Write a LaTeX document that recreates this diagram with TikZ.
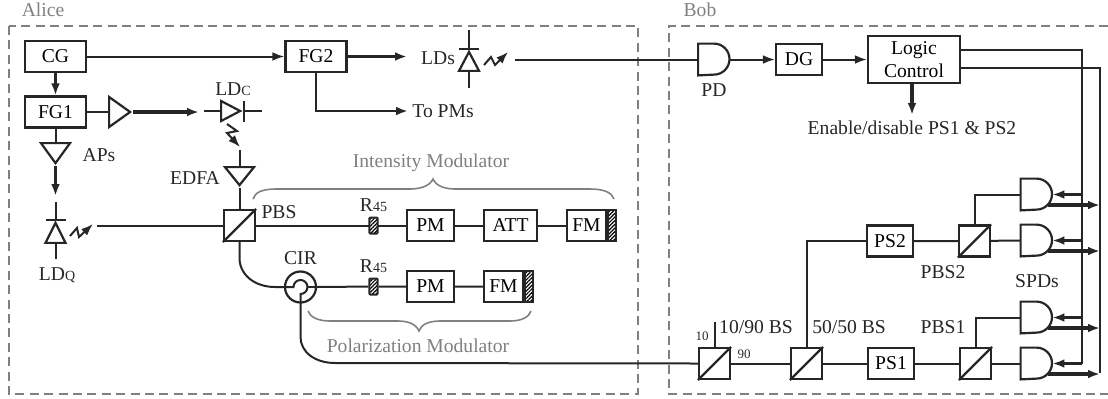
\documentclass[tikz,border=0pt]{standalone}
\usepackage{fontspec}
\setmainfont{Liberation Serif}
\usetikzlibrary{arrows.meta,patterns.meta,shapes.geometric}
\newcommand{\subtext}[1]{{\fontsize{7}{8}\selectfont #1}}

\begin{document}
\begin{tikzpicture}[x=0.5pt,y=-0.5pt,
	font=\fontsize{9.8}{11.5}\selectfont,
	>={Latex[length=6pt,width=4.4pt]},
	line_conn/.style={line width=1pt,draw=black!85},
	thin_arrow/.style={line_conn,->},
	thick_arrow/.style={line width=1.6pt,draw=black!85,->},
	box_node/.style={draw=black!85,rectangle,line width=1.1pt,inner sep=0pt,minimum height=15.5pt,align=center},
	split_node/.style={box_node,minimum width=15.5pt},
	hatch_node/.style={draw=black!85,line width=1pt,inner sep=0pt,minimum width=4pt,minimum height=15.5pt,pattern={Lines[angle=45,distance=1.3pt,line width=.6pt]}},
	rot_node/.style={hatch_node,rounded corners=.5pt,minimum width=4.2pt,minimum height=8pt},
	amp_node/.style={draw=black!85,isosceles triangle,isosceles triangle stretches,line width=1.1pt,inner sep=0pt,anchor=apex},
	gate_node/.style={rectangle,inner sep=0pt,minimum size=15.5pt,append after command={\pgfextra{\let\gatenode=\tikzlastnode
		\draw[line width=1.1pt,draw=black!85] (\gatenode.north west) -- (\gatenode.north) arc (90:-90:7.75pt) -- (\gatenode.south west) -- cycle;}}},
	gray_label/.style={text=black!50,inner sep=0pt},
	label_node/.style={text=black!85,inner sep=0pt},
	tiny_label/.style={label_node,font=\fontsize{6.5}{7}\selectfont},
	frame_line/.style={draw=black!50,line width=.8pt,dash pattern=on 4.5pt off 2.7pt},
	brace_line/.style={draw=black!50,line width=.8pt}]
	\useasboundingbox (0,0) rectangle (1108,398);

	% frames
	\draw[frame_line] (9,26) rectangle (638,394);
	\draw[frame_line] (1108,26) -- (669,26) -- (669,394) -- (1108,394);
	\node[gray_label] (alice) at (43,10) {Alice};
	\node[gray_label] (bob) at (700,10) {Bob};

	% Alice
	\node[box_node,minimum width=30.5pt] (cg) at (55.5,56.5) {CG};
	\node[box_node,minimum width=30.5pt] (fg1) at (55.5,112) {FG1};
	\node[box_node,minimum width=30.5pt] (fg2) at (316,56.5) {FG2};
	\node[amp_node,minimum width=15pt,minimum height=10.5pt] (amp1) at (133,112) {};
	\node[amp_node,shape border rotate=-90,minimum width=14.5pt,minimum height=10pt] (amp2) at (55.5,166) {};
	\node[amp_node,shape border rotate=-90,minimum width=14.5pt,minimum height=9pt] (edfa) at (239.5,188) {};
	\node[amp_node,minimum width=10pt,minimum height=9.5pt] (ldc) at (243,111) {};
	\node[amp_node,shape border rotate=90,minimum width=10pt,minimum height=10pt] (ldq) at (55.5,220) {};
	\node[amp_node,shape border rotate=90,minimum width=10pt,minimum height=9.5pt] (lds) at (469,49) {};
	\node[split_node] (pbs) at (239.5,225.5) {};
	\node[rot_node] (rot1) at (373.5,225.5) {};
	\node[box_node,minimum width=23.5pt] (pm1) at (430.5,225.5) {PM};
	\node[box_node,minimum width=26.5pt] (att) at (510.5,225.5) {ATT};
	\node[box_node,minimum width=19.5pt] (fm1) at (586.5,225.5) {FM};
	\node[hatch_node,anchor=west] (mirror1) at (fm1.east) {};
	\node[draw=black!85,circle,line width=1.1pt,inner sep=0pt,minimum size=15.5pt] (cir) at (300.5,287) {};
	\node[rot_node] (rot2) at (373.5,286.5) {};
	\node[box_node,minimum width=23.5pt] (pm2) at (430.5,286.5) {PM};
	\node[box_node,minimum width=19.5pt] (fm2) at (503.5,286.5) {FM};
	\node[hatch_node,anchor=west] (mirror2) at (fm2.east) {};

	\node[label_node] (ldc_text) at (233,89) {LD\subtext{C}};
	\node[label_node] (aps_text) at (99,155) {APs};
	\node[label_node] (edfa_text) at (195,178) {EDFA};
	\node[label_node] (ldq_text) at (57,275) {LD\subtext{Q}};
	\node[label_node] (pbs_text) at (279,212) {PBS};
	\node[label_node] (cir_text) at (300.5,258) {CIR};
	\node[label_node] (r1_text) at (373.5,205) {R\subtext{45}};
	\node[label_node] (r2_text) at (373.5,266) {R\subtext{45}};
	\node[label_node] (lds_text) at (438,58) {LDs};
	\node[label_node,anchor=west] (topm_text) at (412,111) {To PMs};
	\node[gray_label] (im_text) at (431,163) {Intensity Modulator};
	\node[gray_label] (pm_text) at (418,346) {Polarization Modulator};

	\coordinate (ldc_in) at (204,111);
	\coordinate (ldc_out) at (262,111);
	\coordinate (ldc_arrow) at (199,112);
	\coordinate (ldq_top) at (55.5,202);
	\coordinate (ldq_bot) at (55.5,259);
	\coordinate (ldq_arrow) at (55.5,196);
	\coordinate (ldq_fibre) at (97,225.5);
	\coordinate (edfa_in) at (239.5,150);
	\coordinate (lds_top) at (469,30);
	\coordinate (lds_bot) at (469,88);
	\coordinate (lds_arrow) at (407,56.5);
	\coordinate (lds_fibre) at (515,59.5);
	\coordinate (topm) at (408,111);

	\draw[thin_arrow] (cg) -- (fg2);
	\draw[thick_arrow] (cg) -- (fg1);
	\draw[line_conn] (fg1) -- (amp1.lower side);
	\draw[thick_arrow] (amp1.apex) -- (ldc_arrow);
	\draw[line_conn] (fg1) -- (amp2.lower side);
	\draw[thick_arrow] (amp2.apex) -- (ldq_arrow);
	\draw[thick_arrow] (fg2) -- (lds_arrow);
	\draw[thick_arrow,line width=1.2pt] (fg2.south) |- (topm);
	\draw[line_conn] (ldc_in) -- (ldc.lower side);
	\draw[line_conn] (ldc.apex) -- (ldc_out);
	\draw[line_conn] (243.5,101) -- (243.5,122);
	\draw[line_conn] (ldq_top) -- (ldq.apex);
	\draw[line_conn] (ldq.lower side) -- (ldq_bot);
	\draw[line_conn] (45.5,220) -- (65.5,220);
	\draw[line_conn] (lds_top) -- (lds.apex);
	\draw[line_conn] (lds.lower side) -- (lds_bot);
	\draw[line_conn] (459,49) -- (479,49);
	\draw[line_conn] (edfa_in) -- (edfa.lower side);
	\draw[line_conn] (edfa.apex) -- (pbs.north);
	\draw[line_conn] (ldq_fibre) -- (pbs.west);
	\draw[line_conn] (pbs.east) -- (rot1) -- (pm1) -- (att) -- (fm1);
	\draw[line_conn] (cir.east) -- (rot2) -- (pm2) -- (fm2);
	\draw[line_conn] (pbs.south) -- (239.5,258) .. controls (239.5,275) and (255,287) .. (275,287) -- (293.5,287) arc (180:0:3.5pt);
	\draw[line_conn] (307.5,287) -- (cir.east);

	% laser beams
	\draw[thin_arrow] (227,124) -- (237,131) -- (227,133) -- (240,147);
	\draw[thin_arrow] (70,236) -- (77,228) -- (79,237) -- (93,224);
	\draw[thin_arrow] (484,65) -- (491,57) -- (495,65) -- (508,52);

	% braces
	\draw[brace_line] (253,199) .. controls (255,192) and (263,189) .. (276,189) -- (410,189) .. controls (420,189) and (430,186) .. (433,179) .. controls (436,186) and (445,189) .. (455,189) -- (590,189) .. controls (605,189) and (612,193) .. (614,199);
	\draw[brace_line] (308,311) .. controls (310,317) and (318,321) .. (330,321) -- (398,321) .. controls (408,321) and (416,324) .. (419,331) .. controls (421,324) and (430,321) .. (440,321) -- (510,321) .. controls (522,321) and (529,317) .. (531,311);

	% Bob
	\node[gate_node] (pd) at (714,59.5) {};
	\node[box_node,minimum width=23pt] (dg) at (799,59.5) {DG};
	\node[box_node,minimum width=46pt,minimum height=23.5pt] (logic) at (914,59.5) {Logic\\Control};
	\node[split_node] (bs10) at (714.5,363.5) {};
	\node[split_node] (bs50) at (806.5,363.5) {};
	\node[box_node,minimum width=23pt] (ps1) at (891,363.5) {PS1};
	\node[split_node] (pbs1) at (975.5,363.5) {};
	\node[box_node,minimum width=23pt] (ps2) at (890,241) {PS2};
	\node[split_node] (pbs2) at (974.5,241) {};
	\node[gate_node] (spd1) at (1036.5,194.5) {};
	\node[gate_node] (spd2) at (1036.5,240.5) {};
	\node[gate_node] (spd3) at (1036.5,317.5) {};
	\node[gate_node] (spd4) at (1036.5,363.5) {};

	\node[label_node] (pd_text) at (714,90) {PD};
	\node[label_node] (enable_text) at (912,128) {Enable/disable PS1 \& PS2};
	\node[tiny_label] (ten_text) at (702,336) {10};
	\node[tiny_label] (ninety_text) at (744,354) {90};
	\node[label_node] (bs10_text) at (756,327) {10/90 BS};
	\node[label_node] (bs50_text) at (849,327) {50/50 BS};
	\node[label_node] (pbs1_text) at (943,327) {PBS1};
	\node[label_node] (pbs2_text) at (943,272) {PBS2};
	\node[label_node] (spds_text) at (1037,281) {SPDs};

	\coordinate (enable) at (912,115);
	\coordinate (bs10_free) at (714.5,322);
	\coordinate (bus_a) at (1082,50);
	\coordinate (bus_a_end) at (1082,363.5);
	\coordinate (bus_b) at (1100,68);
	\coordinate (bus_b_end) at (1100,373);

	\draw[line_conn] (307.5,287) arc (0:-90:3.5pt) -- (300.5,337) .. controls (300.5,352) and (315,363) .. (335,363) -- (bs10.west);
	\draw[line_conn] (lds_fibre) -- (pd.west);
	\draw[thin_arrow] (pd.east) -- (dg);
	\draw[thin_arrow] (dg) -- (logic);
	\draw[thick_arrow] (logic.south -| enable) -- (enable);
	\draw[line_conn] (logic.east |- bus_a) -- (bus_a) -- (bus_a_end);
	\draw[line_conn] (logic.east |- bus_b) -- (bus_b) -- (bus_b_end);
	\draw[line_conn] (bs10.north) -- (bs10_free);
	\draw[line_conn] (bs10) -- (bs50) -- (ps1) -- (pbs1) -- (spd4.west);
	\draw[line_conn] (bs50.north) |- (ps2);
	\draw[line_conn] (ps2) -- (pbs2) -- (spd2.west);
	\draw[line_conn] (pbs2.north) |- (spd1.west);
	\draw[line_conn] (pbs1.north) |- (spd3.west);

	\foreach \n in {bs10,bs50,pbs1,pbs2,pbs}
		\draw[line_conn,line width=1.1pt] (\n.south west) -- (\n.north east);
	\foreach \n in {1,...,4} {
		\coordinate (out\n) at ([shift={(-4,10.5)}]spd\n.east);
		\draw[thick_arrow] (bus_a |- spd\n.east) -- (spd\n.east);
		\draw[thick_arrow] (out\n) -- (bus_b |- out\n);
	}
\end{tikzpicture}
\end{document}
